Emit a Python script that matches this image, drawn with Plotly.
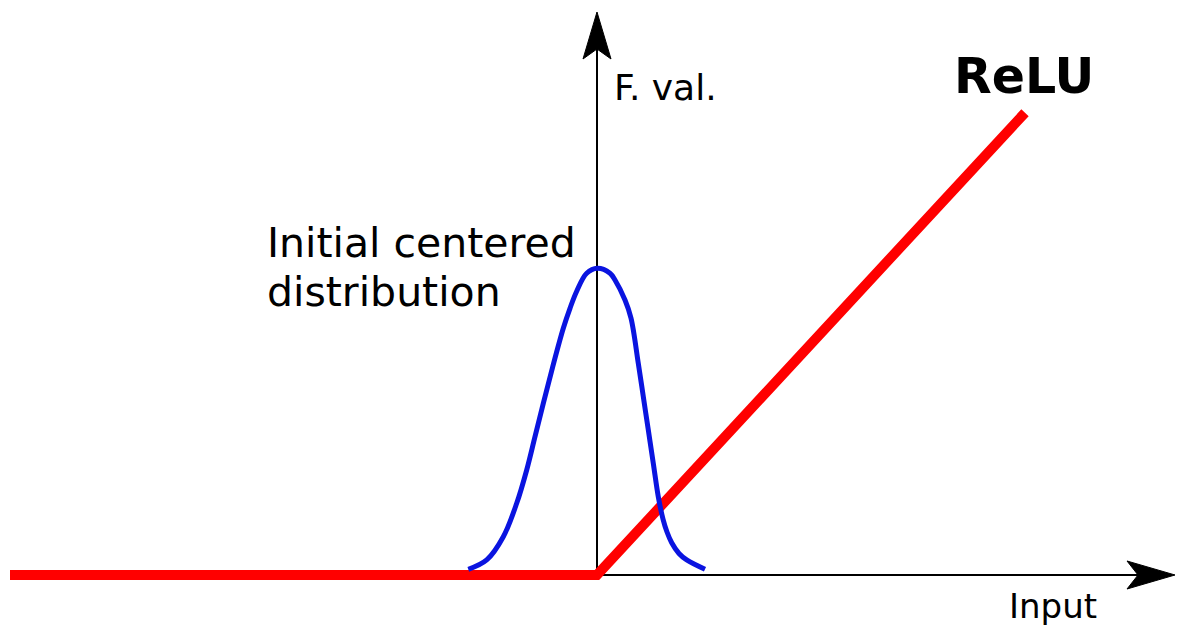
import plotly.graph_objects as go

# ---- data ----
relu_x = [-5.87, 0.0, 4.28]
relu_y = [0.0, 0.0, 4.30]

dist_x = [-1.287, -1.103, -0.937, -0.803, -0.703, -0.620, -0.537, -0.445,
          -0.337, -0.270, -0.203, -0.103, 0.003, 0.130, 0.180, 0.280, 0.340,
          0.413, 0.463, 0.513, 0.563, 0.613, 0.660, 0.700, 0.747, 0.820, 0.897, 1.080]
dist_y = [0.053, 0.140, 0.356, 0.667, 0.977, 1.287, 1.597, 1.930,
          2.295, 2.481, 2.640, 2.807, 2.853, 2.807, 2.744, 2.558, 2.390,
          1.969, 1.659, 1.349, 1.039, 0.728, 0.520, 0.400, 0.300, 0.200, 0.140, 0.053]

labels = {"y": "F. val.", "x": "Input", "relu": "ReLU",
          "dist1": "Initial centered", "dist2": "distribution"}

W, H = 1184, 635
X_RANGE = [-5.97, 5.87]
Y_RANGE = [-0.5581, 5.3488]


def px(x, y):
    """pixel -> paper coordinates (layout decoration only)"""
    return x / W, 1 - y / H


fig = go.Figure()
fig.add_trace(go.Scatter(x=relu_x, y=relu_y, mode="lines",
                         line=dict(color="#ff0000", width=10), hoverinfo="skip"))
fig.add_trace(go.Scatter(x=dist_x, y=dist_y, mode="lines",
                         line=dict(color="#0a14e0", width=5, shape="spline", smoothing=1.0),
                         hoverinfo="skip"))

shapes = []
x0, y0 = px(597, 575)
x1, _ = px(1140, 575)
shapes.append(dict(type="line", xref="paper", yref="paper", x0=x0, y0=y0, x1=x1, y1=y0,
                   line=dict(color="black", width=2), layer="below"))
_, y1 = px(597, 40)
shapes.append(dict(type="line", xref="paper", yref="paper", x0=x0, y0=y0, x1=x0, y1=y1,
                   line=dict(color="black", width=2), layer="below"))


def path(pts):
    s = ""
    for i, (a, b) in enumerate(pts):
        u, v = px(a, b)
        s += ("M" if i == 0 else "L") + f"{u:.5f},{v:.5f} "
    return s + "Z"


shapes.append(dict(type="path", xref="paper", yref="paper",
                   path=path([(597, 12), (611, 59), (597, 49), (583, 59)]),
                   fillcolor="black", line=dict(color="black", width=1), layer="below"))
shapes.append(dict(type="path", xref="paper", yref="paper",
                   path=path([(1175, 575), (1127, 589), (1138, 575), (1127, 561)]),
                   fillcolor="black", line=dict(color="black", width=1), layer="below"))

font = "DejaVu Sans, Verdana, sans-serif"
ann = []


def text(t, x, y, size, bold=False):
    u, v = px(x, y)
    ann.append(dict(text=f"<b>{t}</b>" if bold else t, x=u, y=v, xref="paper", yref="paper",
                    xanchor="left", yanchor="middle", showarrow=False,
                    font=dict(family=font, size=size, color="black")))


text(labels["y"], 612, 87, 36)
text(labels["relu"], 952, 77, 49, bold=True)
text(labels["dist1"], 265, 243, 41)
text(labels["dist2"], 265, 292, 41)
text(labels["x"], 1007, 606, 34)

fig.update_layout(
    width=W, height=H, margin=dict(l=0, r=0, t=0, b=0),
    paper_bgcolor="white", plot_bgcolor="white", showlegend=False,
    xaxis=dict(range=X_RANGE, visible=False, fixedrange=True),
    yaxis=dict(range=Y_RANGE, visible=False, fixedrange=True),
    shapes=shapes, annotations=ann,
)
fig.write_html("out.html", config={"displayModeBar": False},
               post_script="document.body.style.margin='0';document.body.style.overflow='hidden';")
